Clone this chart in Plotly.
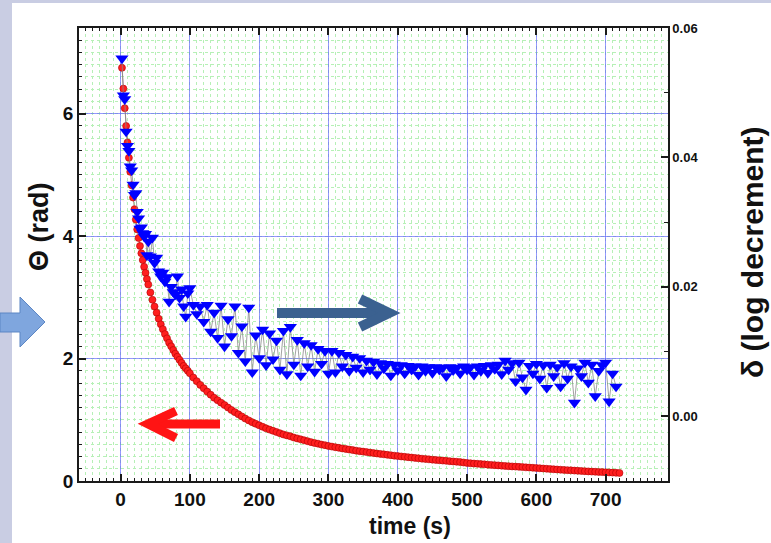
import plotly.graph_objects as go

# ---------------- data ----------------
time_s = [2, 4, 6, 8, 10, 12, 14, 16, 18, 20, 22, 24, 26, 28, 30, 32, 34, 36, 38, 40,
          43, 46, 49, 52, 55, 58, 61, 64, 67, 70, 73, 76, 79, 82, 85, 88, 91, 94, 97, 100,
          105, 110, 115, 120, 125, 130, 135, 140, 145, 150, 155, 160, 165, 170, 175, 180, 185, 190, 195, 200,
          205, 210, 215, 220, 225, 230, 235, 240, 245, 250, 255, 260, 265, 270, 275, 280, 285, 290, 295, 300,
          305, 310, 315, 320, 325, 330, 335, 340, 345, 350, 355, 360, 365, 370, 375, 380, 385, 390, 395, 400,
          405, 410, 415, 420, 425, 430, 435, 440, 445, 450, 455, 460, 465, 470, 475, 480, 485, 490, 495, 500,
          505, 510, 515, 520, 525, 530, 535, 540, 545, 550, 555, 560, 565, 570, 575, 580, 585, 590, 595, 600,
          605, 610, 615, 620, 625, 630, 635, 640, 645, 650, 655, 660, 665, 670, 675, 680, 685, 690, 695, 700,
          705, 710, 715, 720]

theta_rad = [6.75, 6.41, 6.09, 5.80, 5.53, 5.28, 5.05, 4.83, 4.63, 4.44, 4.27, 4.11, 3.97, 3.84, 3.72, 3.61, 3.50, 3.40, 3.30, 3.21,
             3.08, 2.96, 2.85, 2.75, 2.65, 2.56, 2.48, 2.40, 2.33, 2.26, 2.20, 2.14, 2.08, 2.03, 1.98, 1.93, 1.88, 1.84, 1.80, 1.76,
             1.69, 1.63, 1.57, 1.515, 1.46, 1.41, 1.36, 1.32, 1.28, 1.24, 1.20, 1.16, 1.125, 1.09, 1.055, 1.02, 0.99, 0.96, 0.935, 0.91,
             0.885, 0.86, 0.84, 0.82, 0.80, 0.78, 0.76, 0.745, 0.73, 0.71, 0.695, 0.68, 0.665, 0.65, 0.635, 0.62, 0.61, 0.595, 0.585, 0.572,
             0.562, 0.552, 0.542, 0.532, 0.523, 0.514, 0.505, 0.496, 0.488, 0.48, 0.472, 0.464, 0.456, 0.449, 0.442, 0.435, 0.428, 0.421, 0.414, 0.407,
             0.401, 0.395, 0.389, 0.383, 0.377, 0.371, 0.365, 0.360, 0.354, 0.349, 0.344, 0.339, 0.334, 0.329, 0.324, 0.319, 0.314, 0.309, 0.302, 0.295,
             0.290, 0.285, 0.281, 0.276, 0.272, 0.267, 0.263, 0.259, 0.255, 0.250, 0.246, 0.242, 0.238, 0.235, 0.231, 0.227, 0.223, 0.220, 0.216, 0.212,
             0.208, 0.204, 0.200, 0.196, 0.192, 0.188, 0.184, 0.181, 0.177, 0.174, 0.170, 0.167, 0.164, 0.160, 0.157, 0.154, 0.151, 0.148, 0.145, 0.142,
             0.140, 0.137, 0.134, 0.132]

delta_log = [0.0553, 0.0496, 0.0490, 0.0440, 0.0418, 0.0410, 0.0386, 0.0380, 0.0358, 0.0342, 0.0345, 0.0316, 0.0306, 0.0290, 0.0292, 0.0283, 0.0278, 0.0282, 0.0249, 0.0270,
             0.0247, 0.0276, 0.0237, 0.0245, 0.0224, 0.0216, 0.0222, 0.0208, 0.0215, 0.0177, 0.0200, 0.0192, 0.0188, 0.0216, 0.0183, 0.0196, 0.0170, 0.0154, 0.0190, 0.0198,
             0.0172, 0.0158, 0.0170, 0.0146, 0.0172, 0.0131, 0.0160, 0.0121, 0.0171, 0.0108, 0.0150, 0.0124, 0.0170, 0.0098, 0.0139, 0.0085, 0.0168, 0.0068, 0.0125, 0.0090,
             0.0134, 0.0079, 0.0128, 0.0088, 0.0117, 0.0072, 0.0132, 0.0065, 0.0138, 0.0080, 0.0118, 0.0063, 0.0113, 0.0077, 0.0110, 0.0069, 0.0104, 0.0081, 0.0101, 0.0066,
             0.0101, 0.0068, 0.0098, 0.0077, 0.0095, 0.0070, 0.0092, 0.0075, 0.0090, 0.0068, 0.0086, 0.0072, 0.0084, 0.0065, 0.0082, 0.0074, 0.0081, 0.0063, 0.0080, 0.0071,
             0.0079, 0.0066, 0.0078, 0.0072, 0.0077, 0.0064, 0.0077, 0.0070, 0.0076, 0.0067, 0.0076, 0.0072, 0.0075, 0.0062, 0.0076, 0.0071, 0.0075, 0.0066, 0.0077, 0.0072,
             0.0076, 0.0064, 0.0077, 0.0070, 0.0078, 0.0067, 0.0079, 0.0073, 0.0080, 0.0065, 0.0086, 0.0072, 0.0082, 0.0054, 0.0083, 0.0060, 0.0041, 0.0078, 0.0066, 0.0081,
             0.0058, 0.0079, 0.0044, 0.0080, 0.0062, 0.0076, 0.0046, 0.0082, 0.0058, 0.0077, 0.0021, 0.0074, 0.0062, 0.0083, 0.0052, 0.0080, 0.0031, 0.0070, 0.0079, 0.0083,
             0.0023, 0.0066, 0.0046]

x_tick_vals = [0, 100, 200, 300, 400, 500, 600, 700]
x_tick_text = ["0", "100", "200", "300", "400", "500", "600", "700"]
y_tick_vals = [0, 2, 4, 6]
y_tick_text = ["0", "2", "4", "6"]
y2_tick_vals = [0.0, 0.02, 0.04, 0.06]
y2_tick_text = ["0.00", "0.02", "0.04", "0.06"]

x_title = "time (s)"
y_title = "\u0398 (rad)"
y2_title = "\u03b4 (log decrement)"

# ---------------- layout geometry (pixels) ----------------
W, H = 771, 543
L, R, T, B = 79, 668, 28, 481


def px(x):
    return (x - L) / (R - L)


def py(y):
    return (B - y) / (B - T)


def path(points, close=False):
    s = ""
    for cmd, x, y in points:
        s += f"{cmd}{px(x):.5f},{py(y):.5f} "
    if close:
        s += "Z"
    return s.strip()


FONT = "Liberation Sans, Arial, Helvetica, sans-serif"
AX = "#1a1a1a"

fig = go.Figure()

fig.add_trace(go.Scatter(
    x=time_s, y=theta_rad, mode="lines+markers", yaxis="y",
    line=dict(color="#7a3a3a", width=0.6),
    marker=dict(symbol="circle", size=7, color="#ff1f1f",
                line=dict(color="#b00000", width=0.6)),
    hoverinfo="x+y",
))

fig.add_trace(go.Scatter(
    x=time_s[:len(delta_log)], y=delta_log, mode="lines+markers", yaxis="y2",
    line=dict(color="#8a8a8a", width=0.8),
    marker=dict(symbol="triangle-down", size=11.5, color="#0000ff",
                line=dict(width=0)),
    hoverinfo="x+y",
))

major_grid = "rgba(95,95,255,0.65)"
minor_grid = "#b6f0b6"

fig.update_layout(
    width=W, height=H,
    margin=dict(l=L, r=W - R, t=T, b=H - B, pad=0),
    paper_bgcolor="white", plot_bgcolor="white",
    showlegend=False,
    font=dict(family=FONT, color="#111"),
    xaxis=dict(
        range=[-60, 790], tickmode="array", tickvals=x_tick_vals, ticktext=x_tick_text,
        ticks="inside", ticklen=7, tickwidth=1.5, tickcolor=AX,
        showline=True, linecolor=AX, linewidth=1.5, mirror="ticks",
        showgrid=True, gridcolor=major_grid, gridwidth=1, zeroline=False,
        automargin=False,
        tickfont=dict(family=FONT, size=19, color="#111", weight="bold"),
        minor=dict(tickmode="linear", tick0=0, dtick=10, ticks="inside", ticklen=3.5,
                   tickcolor=AX, tickwidth=1, showgrid=True, gridcolor=minor_grid,
                   griddash="dot", gridwidth=1),
    ),
    yaxis=dict(
        range=[0, 7.4], tickmode="array", tickvals=y_tick_vals, ticktext=y_tick_text,
        ticks="inside", ticklen=7, tickwidth=1.5, tickcolor=AX,
        showline=True, linecolor=AX, linewidth=1.5, mirror=False,
        showgrid=True, gridcolor=major_grid, gridwidth=1, zeroline=False,
        automargin=False,
        tickfont=dict(family=FONT, size=19, color="#111", weight="bold"),
        minor=dict(tickmode="linear", tick0=0, dtick=0.2, ticks="inside", ticklen=3.5,
                   tickcolor=AX, tickwidth=1, showgrid=True, gridcolor=minor_grid,
                   griddash="dot", gridwidth=1),
    ),
    yaxis2=dict(
        overlaying="y", side="right", anchor="x",
        range=[-0.01, 0.06], tickmode="array", tickvals=y2_tick_vals, ticktext=y2_tick_text,
        ticks="inside", ticklen=7, tickwidth=1.5, tickcolor=AX,
        showline=True, linecolor=AX, linewidth=1.5,
        showgrid=False, zeroline=False, automargin=False,
        tickfont=dict(family=FONT, size=13, color="#111", weight="bold"),
        minor=dict(tickmode="linear", tick0=0, dtick=0.01, ticks="inside", ticklen=4,
                   tickcolor=AX, tickwidth=1, showgrid=False),
    ),
)

shapes = []
# slide decoration strips
shapes.append(dict(type="rect", xref="paper", yref="paper", layer="above",
                   x0=px(0), x1=px(12), y0=py(H), y1=py(0),
                   fillcolor="#c9cde3", line=dict(width=0)))
shapes.append(dict(type="rect", xref="paper", yref="paper", layer="above",
                   x0=px(0), x1=px(W), y0=py(3), y1=py(0),
                   fillcolor="#c9cde3", line=dict(width=0)))
# light-blue block arrow at the left edge
shapes.append(dict(type="path", xref="paper", yref="paper", layer="above",
                   path=path([("M", 0, 313), ("L", 20, 313), ("L", 20, 297), ("L", 45, 322),
                              ("L", 20, 347), ("L", 20, 332), ("L", 0, 332)], close=True),
                   fillcolor="#7fa6de", line=dict(color="#5c86c4", width=1)))
# dark blue arrow pointing right (towards right axis)
shapes.append(dict(type="path", xref="paper", yref="paper", layer="above",
                   path=path([("M", 277, 313), ("L", 386, 313)]),
                   line=dict(color="#3b6190", width=10)))
shapes.append(dict(type="path", xref="paper", yref="paper", layer="above",
                   path=path([("M", 360, 299), ("L", 389, 313), ("L", 360, 327)]),
                   line=dict(color="#3b6190", width=10)))
# red arrow pointing left (towards left axis)
shapes.append(dict(type="path", xref="paper", yref="paper", layer="above",
                   path=path([("M", 220, 424), ("L", 150, 424)]),
                   line=dict(color="#ff1414", width=9)))
shapes.append(dict(type="path", xref="paper", yref="paper", layer="above",
                   path=path([("M", 176, 411), ("L", 148, 424), ("L", 176, 438)]),
                   line=dict(color="#ff1414", width=9)))
fig.update_layout(shapes=shapes)

annotations = [
    dict(text=x_title, xref="paper", yref="paper", x=px(410), y=py(526),
         showarrow=False, xanchor="center", yanchor="middle",
         font=dict(family=FONT, size=23, color="#111", weight="bold")),
    dict(text=y_title, xref="paper", yref="paper", x=px(39), y=py(227),
         showarrow=False, xanchor="center", yanchor="middle", textangle=-90,
         font=dict(family=FONT, size=27, color="#111", weight="bold")),
    dict(text=y2_title, xref="paper", yref="paper", x=px(752), y=py(252),
         showarrow=False, xanchor="center", yanchor="middle", textangle=-90,
         font=dict(family=FONT, size=30, color="#111", weight="bold")),
]
fig.update_layout(annotations=annotations)

fig.write_html(
    "out.html",
    config={"displayModeBar": False},
    post_script="document.body.style.margin='0px';document.body.style.overflow='hidden';",
)
